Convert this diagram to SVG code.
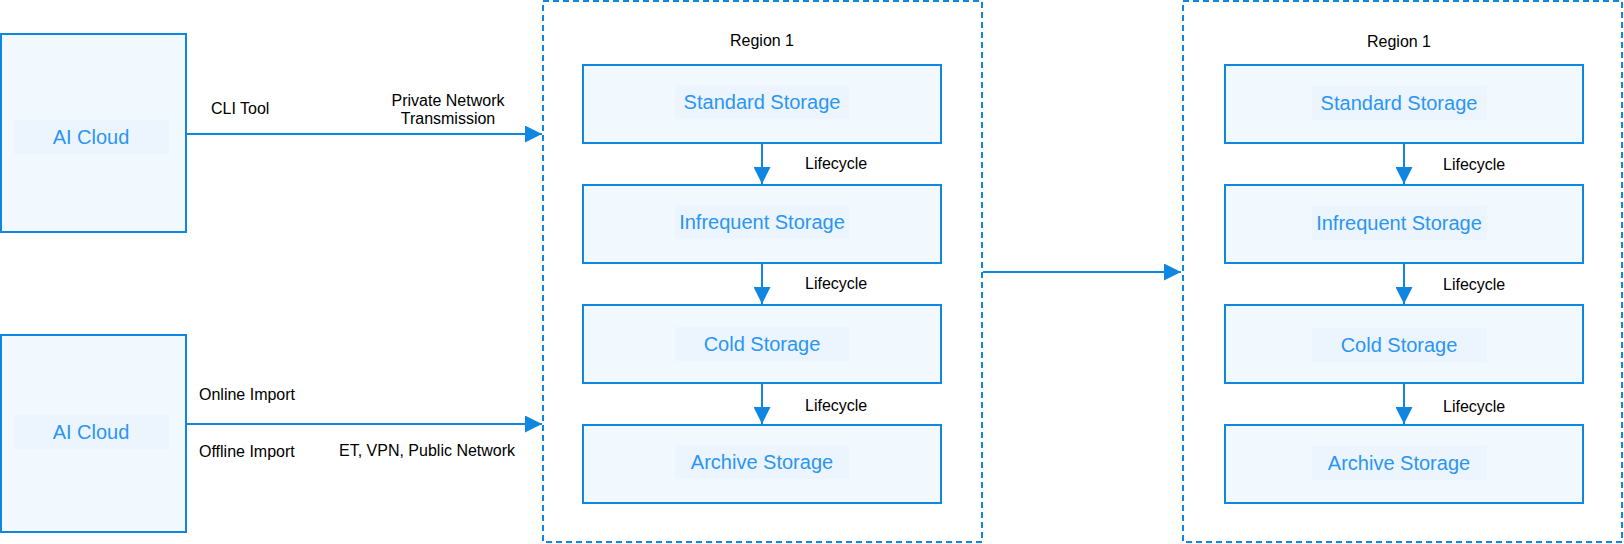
<svg xmlns="http://www.w3.org/2000/svg" width="1624" height="544" viewBox="0 0 1624 544">
<style>
.box{fill:#f1f8fe;stroke:#0f87e0;stroke-width:2}
.hl{fill:#ecf5fe}
.region{fill:none;stroke:#0f87e0;stroke-width:2;stroke-dasharray:6 4}
.bt{font-family:"Liberation Sans",Arial,sans-serif;font-size:20px;fill:#2a96f2;text-anchor:middle}
.lb{font-family:"Liberation Sans",Arial,sans-serif;font-size:16px;fill:#000}
.mid{text-anchor:middle}
.conn{stroke:#0f87e0;stroke-width:2;fill:none}
</style>
<defs>
<marker id="ah" markerUnits="userSpaceOnUse" markerWidth="17" markerHeight="17" refX="17" refY="8.5" orient="auto">
<path d="M0,0 L17,8.5 L0,17 z" fill="#0f87e0"/>
</marker>
</defs>
<rect width="1624" height="544" fill="#fff"/>
<g id="region-1">
<rect class="region" x="543" y="1" width="439" height="541"/>
<text class="lb mid" x="762" y="46">Region 1</text>
</g>
<g id="region-2">
<rect class="region" x="1183" y="1" width="439" height="541"/>
<text class="lb mid" x="1399" y="47">Region 1</text>
</g>
<g id="ai-cloud-1">
<rect class="box" x="1" y="34" width="185" height="198"/>
<rect class="hl" x="14" y="120" width="155" height="34"/>
<text class="bt" x="91" y="144">AI Cloud</text>
</g>
<g id="ai-cloud-2">
<rect class="box" x="1" y="335" width="185" height="197"/>
<rect class="hl" x="14" y="415" width="155" height="34"/>
<text class="bt" x="91" y="439">AI Cloud</text>
</g>
<g id="l-standard">
<rect class="box" x="583" y="65" width="358" height="78"/>
<rect class="hl" x="675" y="85" width="174" height="34"/>
<text class="bt" x="762" y="109">Standard Storage</text>
</g>
<g id="l-infrequent">
<rect class="box" x="583" y="185" width="358" height="78"/>
<rect class="hl" x="675" y="205" width="174" height="34"/>
<text class="bt" x="762" y="229">Infrequent Storage</text>
</g>
<g id="l-cold">
<rect class="box" x="583" y="305" width="358" height="78"/>
<rect class="hl" x="675" y="327" width="174" height="34"/>
<text class="bt" x="762" y="351">Cold Storage</text>
</g>
<g id="l-archive">
<rect class="box" x="583" y="425" width="358" height="78"/>
<rect class="hl" x="675" y="445" width="174" height="34"/>
<text class="bt" x="762" y="469">Archive Storage</text>
</g>
<g id="r-standard">
<rect class="box" x="1225" y="65" width="358" height="78"/>
<rect class="hl" x="1312" y="86" width="175" height="34"/>
<text class="bt" x="1399" y="110">Standard Storage</text>
</g>
<g id="r-infrequent">
<rect class="box" x="1225" y="185" width="358" height="78"/>
<rect class="hl" x="1312" y="206" width="175" height="34"/>
<text class="bt" x="1399" y="230">Infrequent Storage</text>
</g>
<g id="r-cold">
<rect class="box" x="1225" y="305" width="358" height="78"/>
<rect class="hl" x="1312" y="328" width="175" height="34"/>
<text class="bt" x="1399" y="352">Cold Storage</text>
</g>
<g id="r-archive">
<rect class="box" x="1225" y="425" width="358" height="78"/>
<rect class="hl" x="1312" y="446" width="175" height="34"/>
<text class="bt" x="1399" y="470">Archive Storage</text>
</g>
<g id="connectors">
<line class="conn" x1="187" y1="134" x2="542" y2="134" marker-end="url(#ah)"/>
<line class="conn" x1="187" y1="424" x2="542" y2="424" marker-end="url(#ah)"/>
<line class="conn" x1="983" y1="272" x2="1181" y2="272" marker-end="url(#ah)"/>
<line class="conn" x1="762" y1="144" x2="762" y2="184" marker-end="url(#ah)"/>
<line class="conn" x1="762" y1="264" x2="762" y2="304" marker-end="url(#ah)"/>
<line class="conn" x1="762" y1="384" x2="762" y2="424" marker-end="url(#ah)"/>
<line class="conn" x1="1404" y1="144" x2="1404" y2="184" marker-end="url(#ah)"/>
<line class="conn" x1="1404" y1="264" x2="1404" y2="304" marker-end="url(#ah)"/>
<line class="conn" x1="1404" y1="384" x2="1404" y2="424" marker-end="url(#ah)"/>
</g>
<g id="labels">
<text class="lb" x="211" y="114">CLI Tool</text>
<text class="lb mid" x="448" y="106">Private Network</text>
<text class="lb mid" x="448" y="124">Transmission</text>
<text class="lb" x="199" y="400">Online Import</text>
<text class="lb" x="199" y="457">Offline Import</text>
<text class="lb" x="339" y="456">ET, VPN, Public Network</text>
<text class="lb" x="805" y="169">Lifecycle</text>
<text class="lb" x="805" y="289">Lifecycle</text>
<text class="lb" x="805" y="411">Lifecycle</text>
<text class="lb" x="1443" y="170">Lifecycle</text>
<text class="lb" x="1443" y="290">Lifecycle</text>
<text class="lb" x="1443" y="412">Lifecycle</text>
</g>
</svg>
